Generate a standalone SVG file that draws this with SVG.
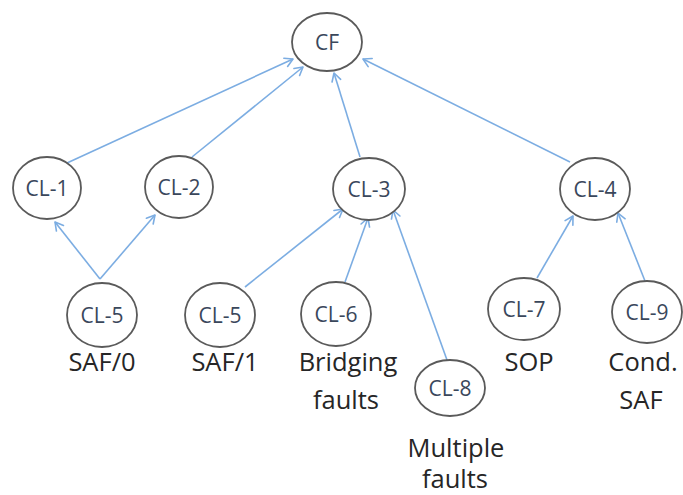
<svg xmlns="http://www.w3.org/2000/svg" width="683" height="495" viewBox="0 0 683 495">
<defs>
<marker id="arr" markerUnits="userSpaceOnUse" markerWidth="12" markerHeight="12" refX="9" refY="5" orient="auto" overflow="visible">
<path d="M1,0.5 L9,5 L1,9.5" fill="none" stroke="#7cade2" stroke-width="1.6" stroke-linecap="round" stroke-linejoin="round"/>
</marker>
<style>
.node ellipse{fill:#ffffff;stroke:#5a5a5a;stroke-width:1.8}
.nl{font-family:"Open Sans","Liberation Sans",sans-serif;font-size:21px;fill:#3a475b;text-anchor:middle}
.lbl{font-family:"Open Sans","Liberation Sans",sans-serif;font-size:25.5px;fill:#262626;text-anchor:middle}
.edge line{stroke:#7cade2;stroke-width:1.6;marker-end:url(#arr)}
</style>
</defs>
<rect width="683" height="495" fill="#ffffff"/>
<g id="connectors" class="edge">
<line x1="67" y1="163" x2="293" y2="59"/>
<line x1="192" y1="157" x2="303" y2="67"/>
<line x1="360" y1="157" x2="334" y2="73"/>
<line x1="570" y1="162" x2="363" y2="59"/>
<line x1="100" y1="279" x2="55" y2="222"/>
<line x1="100" y1="279" x2="155" y2="215"/>
<line x1="245" y1="287" x2="343" y2="209"/>
<line x1="345" y1="282" x2="368" y2="218"/>
<line x1="447" y1="360" x2="393" y2="210"/>
<line x1="537" y1="278" x2="573" y2="216"/>
<line x1="645" y1="281" x2="618" y2="213"/>
</g>
<g id="CF" class="node"><ellipse cx="327" cy="42" rx="35" ry="29"/><text class="nl" x="327" y="50">CF</text></g>
<g id="CL-1" class="node"><ellipse cx="47" cy="188" rx="34" ry="31"/><text class="nl" x="47" y="196">CL-1</text></g>
<g id="CL-2" class="node"><ellipse cx="179" cy="187" rx="34" ry="31"/><text class="nl" x="179" y="195">CL-2</text></g>
<g id="CL-3" class="node"><ellipse cx="369" cy="189" rx="36" ry="31"/><text class="nl" x="369" y="197">CL-3</text></g>
<g id="CL-4" class="node"><ellipse cx="595" cy="189" rx="35" ry="31"/><text class="nl" x="595" y="197">CL-4</text></g>
<g id="CL-5a" class="node"><ellipse cx="102" cy="315" rx="35" ry="32"/><text class="nl" x="102" y="323">CL-5</text><text class="lbl" x="102" y="371">SAF/0</text></g>
<g id="CL-5b" class="node"><ellipse cx="220" cy="315" rx="35" ry="32"/><text class="nl" x="220" y="323">CL-5</text><text class="lbl" x="225" y="371">SAF/1</text></g>
<g id="CL-6" class="node"><ellipse cx="336" cy="314" rx="35" ry="32"/><text class="nl" x="336" y="322">CL-6</text><text class="lbl" x="348" y="371">Bridging</text><text class="lbl" x="346" y="409">faults</text></g>
<g id="CL-7" class="node"><ellipse cx="524" cy="309" rx="36" ry="31"/><text class="nl" x="524" y="317">CL-7</text><text class="lbl" x="529" y="371">SOP</text></g>
<g id="CL-9" class="node"><ellipse cx="647" cy="312" rx="35" ry="31"/><text class="nl" x="647" y="320">CL-9</text><text class="lbl" x="643" y="371">Cond.</text><text class="lbl" x="641" y="409">SAF</text></g>
<g id="CL-8" class="node"><ellipse cx="450" cy="388" rx="35" ry="28"/><text class="nl" x="450" y="396">CL-8</text><text class="lbl" x="456" y="457">Multiple</text><text class="lbl" x="455" y="488">faults</text></g>
</svg>
